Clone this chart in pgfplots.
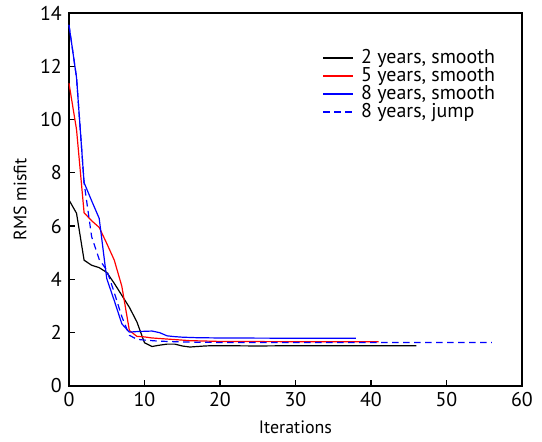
\documentclass[border=0pt]{standalone}
\usepackage{fontspec}
\setmainfont{PT Sans}
\usepackage{pgfplots}
\pgfplotsset{compat=1.18}
\begin{document}
\fontsize{8.8}{10.5}\selectfont
\begin{tikzpicture}
\begin{axis}[
  scale only axis,
  width=226.5bp, height=186.5bp,
  xmin=0, xmax=60, ymin=0, ymax=14,
  xtick={0,10,...,60}, ytick={0,2,...,14},
  tick align=inside,
  xtick pos=bottom, ytick pos=left,
  major tick length=3bp,
  axis line style={line width=0.7pt},
  tick style={line width=0.6pt, black},
  /pgf/number format/assume math mode=true,
  ticklabel style={font=\fontsize{10}{12}\selectfont},
  yticklabel style={xshift=-0.5bp},
  xlabel={Iterations},
  ylabel={RMS misfit},
  xlabel style={at={(rel axis cs:0.5,-0.112)}, anchor=center},
  ylabel style={at={(rel axis cs:-0.108,0.5)}, anchor=center, rotate=0},
  label style={font=\fontsize{9}{10.5}\selectfont},
  clip=false,
  legend cell align=left,
  legend style={draw=none, fill=none, at={(rel axis cs:0.559,0.913)}, anchor=north west,
    font=\fontsize{10}{11}\selectfont, row sep=-3.4bp, inner sep=0pt,
    nodes={inner xsep=3.5bp}},
  legend image code/.code={\draw[line width=0.8pt,#1] (0bp,0bp) -- (15bp,0bp);},
  every axis plot/.append style={line width=0.6pt},
]
\addplot[black] coordinates {
(0,6.98) (1,6.48) (2,4.72) (3,4.53) (4,4.44) (5,4.26) (6,3.85) (7,3.4) (8,2.95) (9,2.4)
(10,1.62) (11,1.48) (12,1.53) (13,1.57) (14,1.57) (15,1.5) (16,1.46) (17,1.48) (18,1.5)
(19,1.51) (20,1.51) (25,1.5) (30,1.51) (35,1.51) (40,1.51) (46,1.51)};
\addlegendentry{2 years, smooth}
\addplot[red] coordinates {
(0,11.36) (1,9.62) (2,6.5) (3,6.2) (4,5.95) (5,5.35) (6,4.72) (7,3.74) (8,2.08) (9,1.86)
(10,1.84) (11,1.8) (12,1.78) (14,1.74) (16,1.7) (20,1.67) (30,1.66) (41,1.66)};
\addlegendentry{5 years, smooth}
\addplot[blue] coordinates {
(0,13.55) (1,11.57) (2,7.63) (3,6.95) (4,6.29) (5,4.03) (6,3.2) (7,2.33) (8,2.02) (9,2.04)
(10,2.05) (11,2.06) (12,2.0) (13,1.88) (14,1.85) (15,1.83) (17,1.81) (20,1.8) (30,1.79) (38,1.79)};
\addlegendentry{8 years, smooth}
\addplot[blue, dash pattern=on 3.3bp off 2.2bp] coordinates {
(0,13.55) (1,11.57) (2,7.63) (3,5.6) (4,4.75) (5,4.35) (6,3.5) (7,2.6) (8,1.9) (9,1.75)
(10,1.72) (12,1.68) (15,1.65) (20,1.63) (30,1.63) (40,1.63) (50,1.63) (56,1.63)};
\addlegendentry{8 years, jump}
\path (rel axis cs:-0.1523,-0.1501) rectangle (rel axis cs:1.0442,1.0322);
\end{axis}
\end{tikzpicture}
\end{document}
